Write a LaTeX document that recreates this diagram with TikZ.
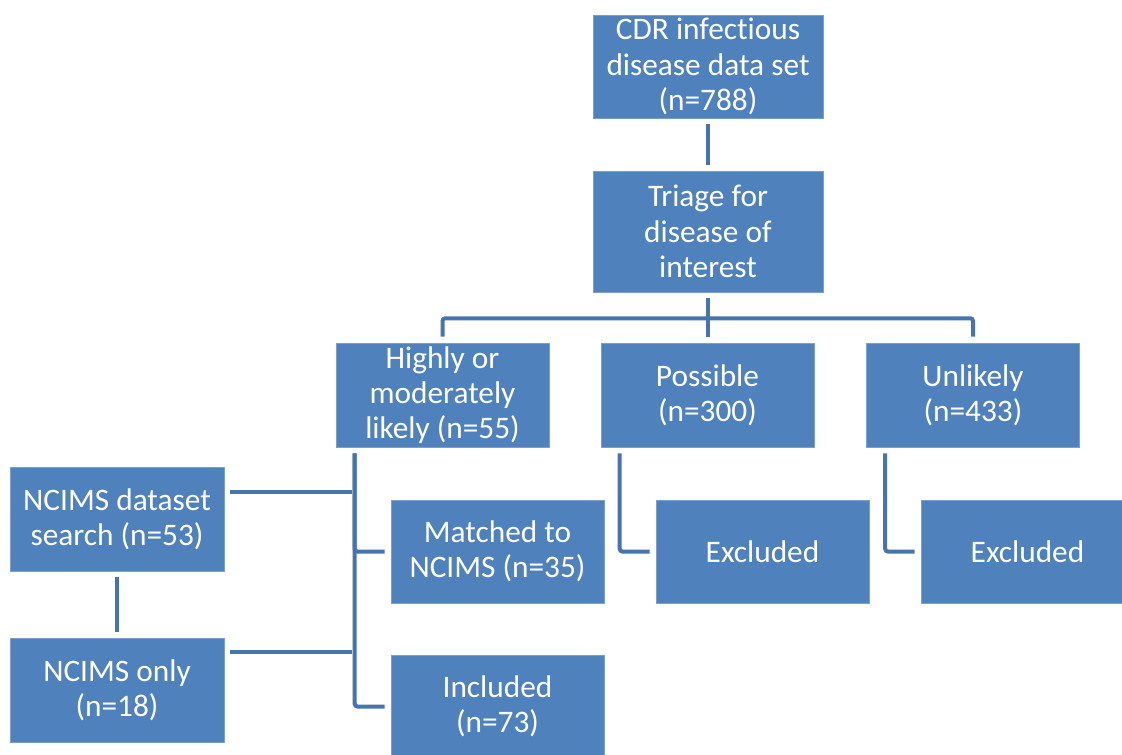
\documentclass[tikz,border=0pt]{standalone}
\usepackage{fontspec}
\setmainfont{Carlito}[Ligatures={NoCommon}]
\usetikzlibrary{calc}
\definecolor{boxblue}{HTML}{4F81BD}
\definecolor{lineblue}{HTML}{4674AE}

\begin{document}
\begin{tikzpicture}[x=0.75pt,y=-0.75pt,
    box/.style 2 args={fill=boxblue,draw=boxblue!75!white,thin,text=white,
      align=center,inner sep=0pt,minimum width=#1*0.75pt,minimum height=#2*0.75pt,
      font=\fontsize{23.5}{26.5}\selectfont},
    link/.style={lineblue,line width=3pt,rounded corners=2pt,
      shorten <=4.5pt,shorten >=4.5pt}]
  \clip (0,0) rectangle (1122,754);
  \fill[white] (0,0) rectangle (1122,754);

  \node[box={230}{103}] (cdr) at (708,66.5) {CDR infectious\\disease data set\\(n=788)};
  \node[box={230}{121}] (triage) at (708,231.5) {Triage for\\disease of\\interest};

  \node[box={213}{104}] (high) at (442.5,395) {Highly or\\moderately\\likely (n=55)};
  \node[box={213}{104}] (poss) at (707.5,395) {Possible\\(n=300)};
  \node[box={213}{104}] (unl) at (973,395) {Unlikely\\(n=433)};

  \node[box={214}{104}] (search) at (117,519) {NCIMS dataset\\search (n=53)};
  \node[box={214}{104}] (only) at (117,690) {NCIMS only\\(n=18)};
  \node[box={213}{103}] (matched) at (497.5,551.5) {Matched to\\NCIMS (n=35)};
  \node[box={213}{103}] (incl) at (497.5,706.5) {Included\\(n=73)};
  \node[box={213}{103}] (excl1) at (762.5,551.5) {Excluded};
  \node[box={213}{103}] (excl2) at (1027.5,551.5) {Excluded};

  \draw[link] (cdr) -- (triage);
  \coordinate (bar) at ($(triage.south)+(0,26)$);
  \draw[link] (triage.south) -- (triage.south |- poss.north);
  \draw[link] (high.north) |- (bar) -| (unl.north);

  \coordinate (hstem) at ($(high.south west)+(19,0)$);
  \draw[link] (hstem) |- (matched.west);
  \draw[link] (hstem) |- (incl.west);
  \coordinate (sjoin) at ($(search.north east)+(0,25)$);
  \coordinate (ojoin) at ($(only.north east)+(0,14)$);
  \draw[link,shorten >=2pt] (sjoin) -- (hstem |- sjoin);
  \draw[link,shorten >=2pt] (ojoin) -- (hstem |- ojoin);
  \draw[link] (search) -- (only);

  \draw[link] ($(poss.south west)+(19,0)$) |- (excl1.west);
  \draw[link] ($(unl.south west)+(19,0)$) |- (excl2.west);
\end{tikzpicture}
\end{document}
